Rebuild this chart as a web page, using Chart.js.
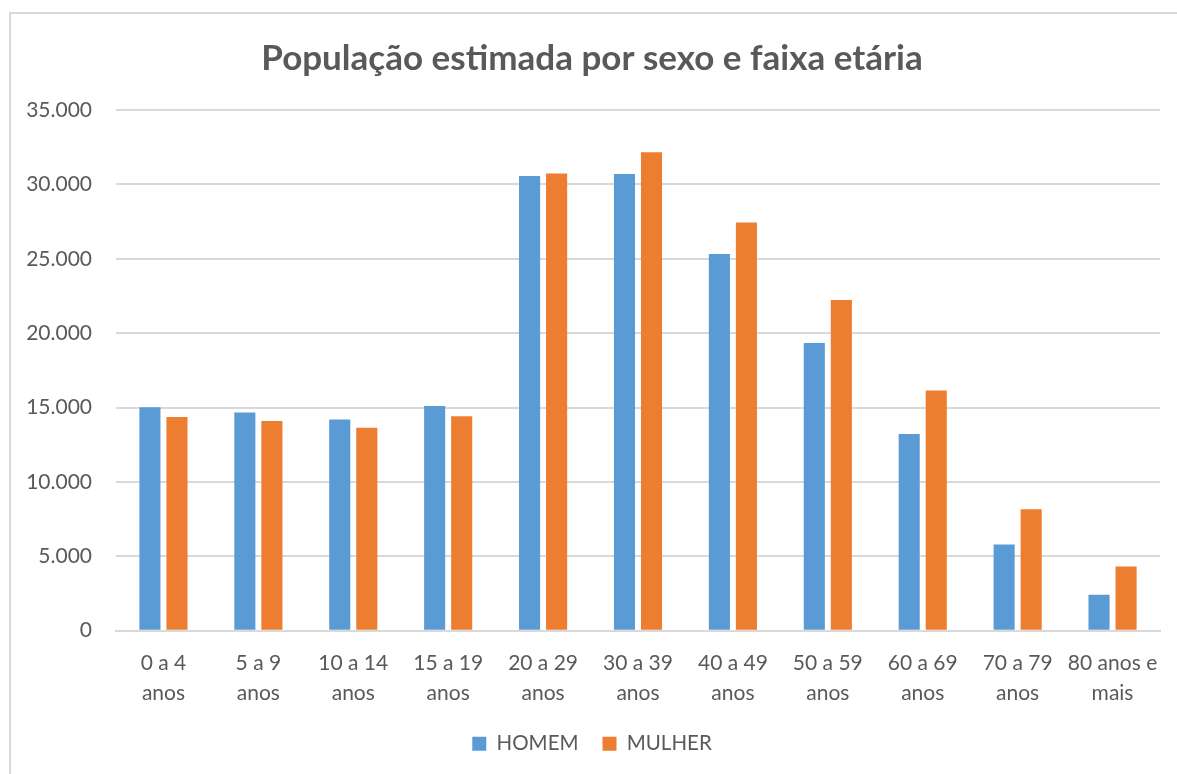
<!DOCTYPE html>
<html>
<head>
<meta charset="utf-8">
<script src="https://cdn.jsdelivr.net/npm/chart.js@4/dist/chart.umd.min.js"></script>
<style>
    html, body { margin: 0; padding: 0; background: #fff; overflow: hidden; }
    #frame {
        position: absolute; left: 9px; top: 12px;
        width: 1300px; height: 900px;
        border: 2px solid #d9d9d9;
    }
    #wrap { position: absolute; left: 20px; top: 0; width: 1157px; height: 774px; }
</style>
</head>
<body>
<div id="frame"></div>
<div id="wrap"><canvas id="popChart" width="1157" height="774"></canvas></div>
<script>
'use strict';

const faixas = [
    ['0 a 4', 'anos'], ['5 a 9', 'anos'], ['10 a 14', 'anos'], ['15 a 19', 'anos'],
    ['20 a 29', 'anos'], ['30 a 39', 'anos'], ['40 a 49', 'anos'], ['50 a 59', 'anos'],
    ['60 a 69', 'anos'], ['70 a 79', 'anos'], ['80 anos e', 'mais']
];
const homem = [15020, 14660, 14190, 15110, 30560, 30700, 25320, 19340, 13220, 5790, 2410];
const mulher = [14370, 14100, 13650, 14410, 30740, 32160, 27430, 22230, 16150, 8160, 4320];

const textColor = '#595959';
const gridColor = '#d9d9d9';
const fontFamily = 'Lato, "Open Sans", sans-serif';

// 35000 -> "35.000"
const formatNumber = function (v) {
    return String(v).replace(/\B(?=(\d{3})+(?!\d))/g, '.');
};

const popChartCtx = document.getElementById('popChart').getContext('2d');
const popChart = new Chart(popChartCtx, {
    type: 'bar',
    data: {
        labels: faixas,
        datasets: [{
            label: 'HOMEM',
            backgroundColor: '#5b9bd5',
            data: homem
        }, {
            label: 'MULHER',
            backgroundColor: '#ed7d31',
            data: mulher
        }]
    },
    options: {
        responsive: false,
        animation: false,
        categoryPercentage: 0.57,
        barPercentage: 0.78,
        layout: {
            padding: { left: 4, right: 17, top: 0, bottom: 10 }
        },
        plugins: {
            title: {
                display: true,
                text: 'População estimada por sexo e faixa etária',
                color: textColor,
                font: { family: fontFamily, size: 35, weight: 'bold' },
                padding: { top: 38, bottom: 30 }
            },
            legend: {
                position: 'bottom',
                labels: {
                    color: textColor,
                    boxWidth: 14,
                    boxHeight: 14,
                    padding: 24,
                    font: { family: fontFamily, size: 20.5 }
                }
            },
            tooltip: { enabled: false }
        },
        scales: {
            x: {
                grid: { display: false, drawTicks: false },
                border: { color: gridColor, width: 2 },
                ticks: {
                    color: textColor,
                    padding: 18,
                    maxRotation: 0,
                    autoSkip: false,
                    font: { family: fontFamily, size: 21, lineHeight: 1.4 }
                },
                afterFit: function (scale) {
                    // legend padding also spaces the items; give that height back
                    scale.height -= 16;
                }
            },
            y: {
                min: 0,
                max: 35000,
                grid: { color: gridColor, lineWidth: 2, drawTicks: false },
                border: { display: false },
                ticks: {
                    stepSize: 5000,
                    color: textColor,
                    padding: 24,
                    font: { family: fontFamily, size: 21 },
                    callback: function (value) {
                        return formatNumber(value);
                    }
                },
                afterFit: function (scale) {
                    scale.width = 92;
                }
            }
        }
    }
});
</script>
</body>
</html>
